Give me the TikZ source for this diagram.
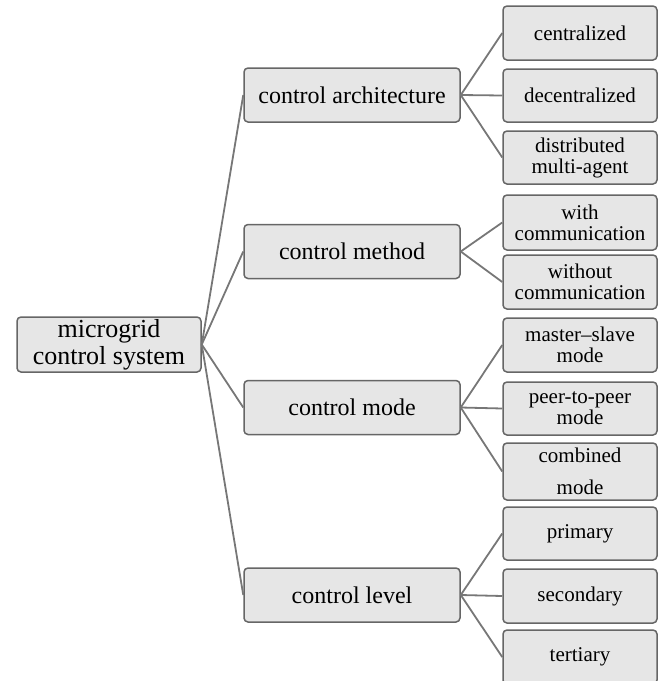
\documentclass[tikz,border=0pt]{standalone}
\usepackage{fontspec}
\setmainfont{Liberation Serif}
\definecolor{boxfill}{HTML}{E6E6E6}
\definecolor{boxline}{HTML}{666666}
\definecolor{conn}{HTML}{777777}
\tikzset{
  x=1pt, y=-1pt,
  box/.style={draw=boxline, fill=boxfill, line width=1.5pt, rounded corners=4pt,
    inner sep=0pt, align=center, anchor=center},
  rootbox/.style={box, minimum width=184pt, minimum height=55pt,
    font=\fontsize{26}{27}\selectfont},
  midbox/.style={box, minimum width=216pt, minimum height=54pt,
    font=\fontsize{24}{26}\selectfont},
  leafbox/.style={box, minimum width=154pt, minimum height=54pt,
    font=\fontsize{21}{21}\selectfont},
  link/.style={draw=conn, line width=1.8pt}
}
\begin{document}
\begin{tikzpicture}
\useasboundingbox (0,0) rectangle (658,681);
\node[rootbox] (root) at (109,344.5) {microgrid\\control system};
\node[midbox] (arch) at (352,95) {control architecture};
\node[midbox] (meth) at (352,251.5) {control method};
\node[midbox] (mode) at (352,407.5) {control mode};
\node[midbox] (lev) at (352,595) {control level};
\node[leafbox] (cen) at (580,33) {centralized};
\node[leafbox, minimum height=53pt] (dec) at (580,95.5) {decentralized};
\node[leafbox, minimum height=53pt] (dis) at (580,157.5) {distributed\\multi-agent};
\node[leafbox, minimum height=55pt] (wit) at (580,222.5) {with\\communication};
\node[leafbox] (wo) at (580,282) {without\\communication};
\node[leafbox] (ms) at (580,345) {master--slave\\mode};
\node[leafbox, minimum height=53pt] (p2p) at (580,408.5) {peer-to-peer\\mode};
\node[leafbox, minimum height=57pt] (comb) at (580,471.5) {combined\\[11pt]mode};
\node[leafbox, minimum height=53pt] (pri) at (580,533.5) {primary};
\node[leafbox] (sec) at (580,596) {secondary};
\node[leafbox] (ter) at (580,657) {tertiary};
\foreach \m in {arch,meth,mode,lev} \draw[link] (root.east) -- (\m.west);
\foreach \l in {cen,dec,dis} \draw[link] (arch.east) -- (\l.west);
\foreach \l in {wit,wo} \draw[link] (meth.east) -- (\l.west);
\foreach \l in {ms,p2p,comb} \draw[link] (mode.east) -- (\l.west);
\foreach \l in {pri,sec,ter} \draw[link] (lev.east) -- (\l.west);
\end{tikzpicture}
\end{document}
